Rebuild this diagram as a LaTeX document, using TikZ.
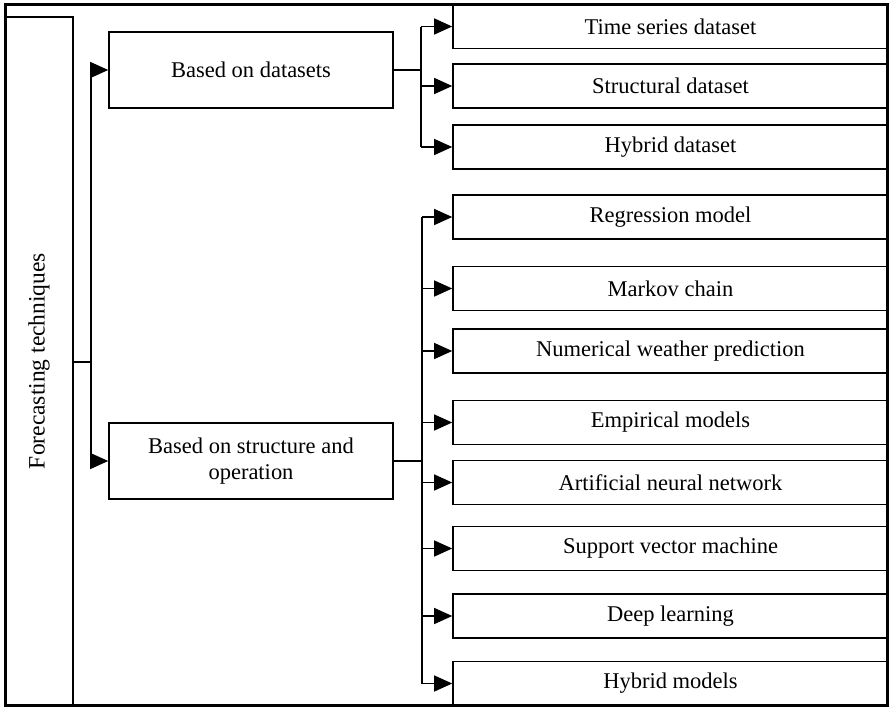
\documentclass[tikz,border=0pt]{standalone}
\usepackage{fontspec}
\setmainfont{Liberation Serif}
\usepackage{tikz}
\usetikzlibrary{arrows.meta}

\begin{document}
\begin{tikzpicture}[x=1pt,y=-1pt,
	box/.style={draw,line width=1.6pt,rectangle,inner sep=0pt,font=\fontsize{22.5}{26}\selectfont},
	midbox/.style={box,minimum width=284pt,minimum height=76pt,align=center},
	leafbox/.style={box,minimum width=435pt,minimum height=44pt},
	link/.style={line width=1.2pt},
	arr/.style={link,-{Triangle[length=18pt,width=16pt]}}]
	\useasboundingbox (0,0) rectangle (889,707);
	\node[box,minimum width=68pt,minimum height=688pt] (fc) at (39,361) {};
	\node[rotate=90,font=\fontsize{23.5}{26}\selectfont] at (fc.center) {Forecasting techniques};
	\node[midbox] (ds) at (251,70) {Based on datasets};
	\node[midbox] (so) at (251,461) {Based on structure and\\operation};
	\node[leafbox] (t1) at (670.5,26.5) {Time series dataset};
	\node[leafbox] (t2) at (670.5,86) {Structural dataset};
	\node[leafbox] (t3) at (670.5,147) {Hybrid dataset};
	\node[leafbox] (m1) at (670.5,217) {Regression model};
	\node[leafbox] (m2) at (670.5,288.5) {Markov chain};
	\node[leafbox] (m3) at (670.5,351) {Numerical weather prediction};
	\node[leafbox] (m4) at (670.5,422.5) {Empirical models};
	\node[leafbox] (m5) at (670.5,482.5) {Artificial neural network};
	\node[leafbox] (m6) at (670.5,548.5) {Support vector machine};
	\node[leafbox] (m7) at (670.5,616) {Deep learning};
	\node[leafbox] (m8) at (670.5,683.5) {Hybrid models};
	\coordinate (j0) at (91,362);
	\coordinate (j1) at (421,70);
	\coordinate (j2) at (422,461);
	\draw[link] (fc.east |- j0) -- (j0);
	\draw[link] (j0 |- ds) -- (j0 |- so);
	\draw[arr] (j0 |- ds) -- (ds.west);
	\draw[arr] (j0 |- so) -- (so.west);
	\draw[link] (ds.east) -- (j1);
	\draw[link] (j1 |- t1) -- (j1 |- t3);
	\draw[arr] (j1 |- t1) -- (t1.west);
	\draw[arr] (j1 |- t2) -- (t2.west);
	\draw[arr] (j1 |- t3) -- (t3.west);
	\draw[link] (so.east) -- (j2);
	\draw[link] (j2 |- m1) -- (j2 |- m8);
	\draw[arr] (j2 |- m1) -- (m1.west);
	\draw[arr] (j2 |- m2) -- (m2.west);
	\draw[arr] (j2 |- m3) -- (m3.west);
	\draw[arr] (j2 |- m4) -- (m4.west);
	\draw[arr] (j2 |- m5) -- (m5.west);
	\draw[arr] (j2 |- m6) -- (m6.west);
	\draw[arr] (j2 |- m7) -- (m7.west);
	\draw[arr] (j2 |- m8) -- (m8.west);
	\draw[line width=3pt] (5,4) rectangle (887,705);
\end{tikzpicture}
\end{document}
